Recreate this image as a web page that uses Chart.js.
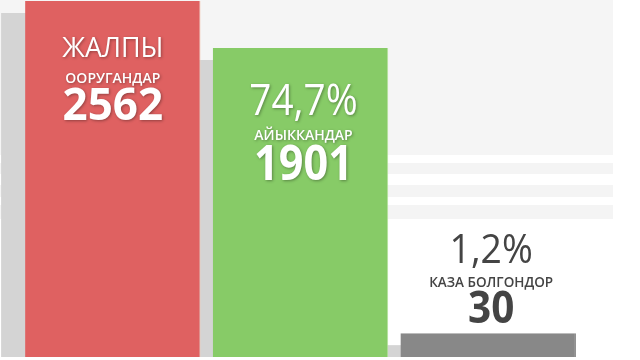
<!DOCTYPE html>
<html>
<head>
<meta charset="utf-8">
<script src="https://cdn.jsdelivr.net/npm/chart.js@4.4.1/dist/chart.umd.min.js"></script>
<style>
  html, body { margin: 0; padding: 0; background: #fff; }
  canvas { display: block; }
</style>
</head>
<body>
<canvas id="bars" width="640" height="360"></canvas>
<script>
// bar heights as seen in the picture (0-100 of plot height)
const categories = ['ЖАЛПЫ ООРУГАНДАР', 'АЙЫККАНДАР', 'КАЗА БОЛГОНДОР'];
const barHeights = [100, 86.8, 6.7];
const topLines = ['ЖАЛПЫ', '74,7%', '1,2%'];
const smallLines = ['ООРУГАНДАР', 'АЙЫККАНДАР', 'КАЗА БОЛГОНДОР'];
const counts = ['2562', '1901', '30'];

const barColors = ['#df6161', '#87cb67', '#888888'];
const borderColors = ['#f2c9b8', '#b4e29a', '#777777'];

// text placement per bar: baseline of each line relative to the bar top
const textSpots = [
  { dx: 0, y: [56, 82, 119], color: '#ffffff', shadow: true, sizes: [27, 14, 44], squeeze: [1, 1, 1] },
  { dx: 3, y: [67, 92, 132], color: '#ffffff', shadow: true, sizes: [43, 14, 48], squeeze: [0.9, 1, 0.9] },
  { dx: 3, y: [-70, -46, -10], color: '#444444', shadow: false, sizes: [41, 13.5, 44], squeeze: [0.91, 1, 0.92] }
];

const backdrop = {
  id: 'backdrop',
  beforeDraw(chart) {
    const c = chart.ctx;
    c.save();
    c.fillStyle = '#ffffff';
    c.fillRect(0, 0, chart.width, chart.height);
    c.fillStyle = '#f5f5f5';
    c.fillRect(0, 0, 613, 155);
    c.fillStyle = '#f4f4f4';
    c.fillRect(0, 163, 613, 11);
    c.fillRect(0, 185, 613, 12);
    c.fillRect(0, 205, 613, 14);
    c.restore();
  },
  beforeDatasetsDraw(chart) {
    // soft gray shade cast to the left of each bar
    const c = chart.ctx;
    const bottom = chart.chartArea.bottom;
    c.save();
    c.fillStyle = '#d4d4d4';
    chart.getDatasetMeta(0).data.forEach(bar => {
      const w = bar.width;
      const left = bar.x - w / 2 - 24;
      c.fillRect(left, bar.y + 12, w, bottom - bar.y - 12);
    });
    c.restore();
  }
};

const barText = {
  id: 'barText',
  afterDatasetsDraw(chart) {
    const c = chart.ctx;
    c.save();
    c.textAlign = 'center';
    c.textBaseline = 'alphabetic';
    chart.getDatasetMeta(0).data.forEach((bar, i) => {
      const s = textSpots[i];
      const lines = [topLines[i], smallLines[i], counts[i]];
      const weights = ['400', '600', '700'];
      c.fillStyle = s.color;
      if (s.shadow) {
        c.shadowColor = 'rgba(0,0,0,0.35)';
        c.shadowBlur = 3;
        c.shadowOffsetX = 1;
        c.shadowOffsetY = 1;
      } else {
        c.shadowColor = 'transparent';
      }
      lines.forEach((t, k) => {
        c.save();
        c.font = weights[k] + ' ' + s.sizes[k] + 'px "Open Sans"';
        c.translate(bar.x + s.dx, bar.y + s.y[k]);
        c.scale(s.squeeze[k], 1);
        c.fillText(t, 0, 0);
        c.restore();
      });
    });
    c.restore();
  }
};

new Chart(document.getElementById('bars'), {
  type: 'bar',
  data: {
    labels: categories,
    datasets: [{
      data: barHeights,
      backgroundColor: barColors,
      borderColor: borderColors,
      borderWidth: { left: 0, right: 1, top: 0, bottom: 0 },
      barPercentage: 0.935,
      categoryPercentage: 1
    }]
  },
  options: {
    responsive: false,
    animation: false,
    layout: { padding: { left: 19, right: 58, top: 1, bottom: 3 } },
    plugins: { legend: { display: false }, tooltip: { enabled: false } },
    scales: {
      x: { display: false },
      y: { display: false, min: 0, max: 100 }
    }
  },
  plugins: [backdrop, barText]
});
</script>
</body>
</html>
